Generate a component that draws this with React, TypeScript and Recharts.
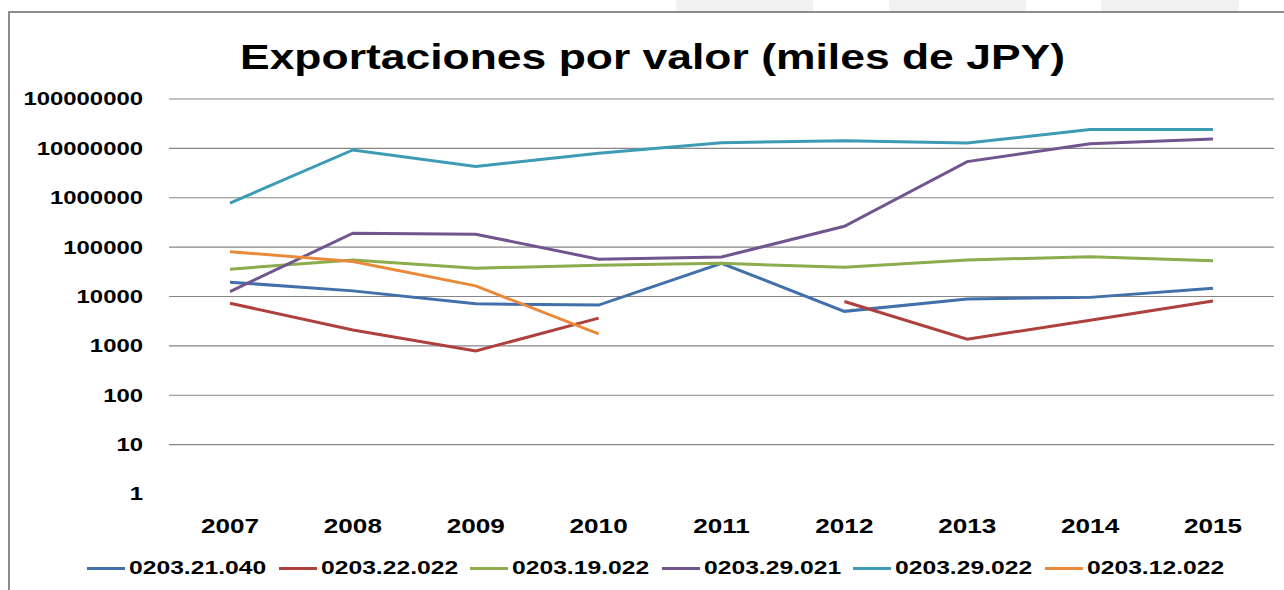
import React from 'react';
import { LineChart, Line, XAxis, YAxis, Legend, ReferenceLine } from 'recharts';

const YEARS = ['2007', '2008', '2009', '2010', '2011', '2012', '2013', '2014', '2015'];

const S_0203_21_040 = [19500, 13000, 7100, 6700, 47000, 5000, 8900, 9600, 14700];
const S_0203_22_022 = [7300, 2100, 790, 3640, null, 7900, 1370, 3300, 8100];
const S_0203_19_022 = [35800, 55000, 37500, 43000, 47000, 39000, 55000, 64000, 53000];
const S_0203_29_021 = [12600, 191000, 183000, 57000, 63000, 264000, 5400000, 12400000, 15500000];
const S_0203_29_022 = [780000, 9300000, 4300000, 8000000, 13000000, 14300000, 12800000, 24000000, 24000000];
const S_0203_12_022 = [81000, 51000, 16400, 1750, null, null, null, null, null];

const SERIES_NAMES = ['0203.21.040', '0203.22.022', '0203.19.022', '0203.29.021', '0203.29.022', '0203.12.022'];
const SERIES_VALUES = [S_0203_21_040, S_0203_22_022, S_0203_19_022, S_0203_29_021, S_0203_29_022, S_0203_12_022];
const SERIES_COLORS = ['#4170AA', '#AE403D', '#8DAC4D', '#70558F', '#3E9BB5', '#E98A3A'];

const Y_TICKS = [1, 10, 100, 1000, 10000, 100000, 1000000, 10000000, 100000000];
const GRID_VALUES = [10, 100, 1000, 10000, 100000, 1000000, 10000000, 100000000];

const TITLE = 'Exportaciones por valor (miles de JPY)';

const data = YEARS.map((year, i) => {
  const row: any = { year };
  SERIES_NAMES.forEach((name, k) => {
    row[name] = SERIES_VALUES[k][i];
  });
  return row;
});

const FONT = "'Liberation Sans', Arial, sans-serif";

const YTick = (props: any) => {
  const { x, y, payload } = props;
  return (
    <text
      transform={`translate(${x},${y + 6.4}) scale(1.35,1)`}
      textAnchor="end"
      fontFamily={FONT}
      fontWeight="bold"
      fontSize={17.7}
      fill="#000"
    >
      {payload.value}
    </text>
  );
};

const XTick = (props: any) => {
  const { x, y, payload } = props;
  return (
    <text
      transform={`translate(${x},${y + 39.3}) scale(1.34,1)`}
      textAnchor="middle"
      fontFamily={FONT}
      fontWeight="bold"
      fontSize={19.5}
      fill="#000"
    >
      {payload.value}
    </text>
  );
};

const LegendContent = (props: any) => {
  const payload = props.payload || [];
  const ordered = SERIES_NAMES.map((n) => payload.find((p: any) => p.dataKey === n || p.value === n)).filter(Boolean);
  return (
    <div style={{ display: 'flex', alignItems: 'center', paddingLeft: 87, height: 24 }}>
      {ordered.map((entry: any) => (
        <div key={entry.value} style={{ display: 'flex', alignItems: 'center', height: 24 }}>
          <div style={{ width: 38, height: 3, background: entry.color, marginRight: 4 }} />
          <div style={{ width: 137, marginRight: 12.6, whiteSpace: 'nowrap', overflow: 'visible' }}>
            <span
              style={{
                display: 'inline-block',
                transform: 'scaleX(1.37)',
                transformOrigin: 'left center',
                fontFamily: FONT,
                fontWeight: 'bold',
                fontSize: 18,
                lineHeight: '24px',
                color: '#000',
              }}
            >
              {entry.value}
            </span>
          </div>
        </div>
      ))}
    </div>
  );
};

export default function App() {
  return (
    <div style={{ position: 'absolute', left: 0, top: 0, width: 1284, height: 590, overflow: 'hidden', background: '#fff' }}>
      <div style={{ position: 'absolute', left: 676, top: 0, width: 137, height: 12, background: '#f2f2f2' }} />
      <div style={{ position: 'absolute', left: 889, top: 0, width: 137, height: 12, background: '#f2f2f2' }} />
      <div style={{ position: 'absolute', left: 1101, top: 0, width: 138, height: 12, background: '#f2f2f2' }} />
      <div
        style={{
          position: 'absolute',
          left: 8,
          top: 11,
          width: 1400,
          height: 700,
          borderLeft: '2px solid #8c8c8c',
          borderTop: '2px solid #8c8c8c',
        }}
      />
      <div style={{ position: 'absolute', left: 0, top: 0 }}>
        <LineChart width={1284} height={590} data={data} margin={{ top: 99, right: 10, bottom: 56, left: 0 }}>
          {GRID_VALUES.map((v) => (
            <ReferenceLine key={v} y={v} stroke="#868686" strokeWidth={1.2} />
          ))}
          <XAxis
            dataKey="year"
            padding={{ left: 61, right: 61 }}
            axisLine={false}
            tickLine={false}
            tickSize={0}
            tickMargin={0}
            height={40}
            tick={<XTick />}
            interval={0}
          />
          <YAxis
            scale="log"
            domain={[1, 100000000]}
            ticks={Y_TICKS}
            allowDataOverflow
            axisLine={false}
            tickLine={false}
            tickSize={0}
            tickMargin={26}
            width={169}
            tick={<YTick />}
            interval={0}
          />
          {SERIES_NAMES.map((name, k) => (
            <Line
              key={name}
              type="linear"
              dataKey={name}
              name={name}
              stroke={SERIES_COLORS[k]}
              strokeWidth={3}
              dot={false}
              activeDot={false}
              isAnimationActive={false}
            />
          ))}
          <Legend
            layout="horizontal"
            verticalAlign="middle"
            align="center"
            wrapperStyle={{ top: 556, left: 0, width: 1284, height: 24 }}
            content={<LegendContent />}
          />
        </LineChart>
      </div>
      <svg width={1284} height={100} style={{ position: 'absolute', left: 0, top: 0, pointerEvents: 'none' }}>
        <text
          x={240}
          y={68.5}
          textLength={825}
          lengthAdjust="spacingAndGlyphs"
          fontFamily={FONT}
          fontWeight="bold"
          fontSize={35}
          fill="#000"
        >
          {TITLE}
        </text>
      </svg>
    </div>
  );
}
